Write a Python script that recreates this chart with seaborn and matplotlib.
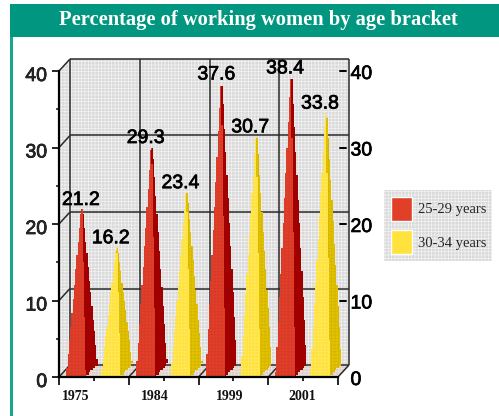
import numpy as np
import pandas as pd
import seaborn as sns
from matplotlib import pyplot as plt
from matplotlib import patheffects as pe
from matplotlib.patches import Polygon, Rectangle
from matplotlib.transforms import ScaledTranslation

years = ['1975', '1984', '1999', '2001']
age_groups = ['25-29 years', '30-34 years']
women_25_29 = [21.2, 29.3, 37.6, 38.4]
women_30_34 = [16.2, 23.4, 30.7, 33.8]

W, H = 499, 416
TEAL = '#009680'

def fx(px):
    return px / W

def fy(px):
    return 1 - px / H

sns.set_style('white')
plt.rcParams['font.family'] = ['Liberation Sans', 'DejaVu Sans']
plt.rcParams['hatch.linewidth'] = 0.5

df = pd.DataFrame({
    'year': years * 2,
    'pct': women_25_29 + women_30_34,
    'age': [age_groups[0]] * 4 + [age_groups[1]] * 4,
})

fig = plt.figure(figsize=(W / 100, H / 100), dpi=100, facecolor='white')
ax = fig.add_axes([fx(59), fy(377), (338 - 59) / W, (377 - 71) / H])
ax.patch.set_visible(False)

sns.barplot(data=df, x='year', y='pct', hue='age', order=years, hue_order=age_groups, saturation=1,
            palette=['#E04028', '#FFE23C'], width=1, gap=0.457, ax=ax, errorbar=None)
ax.set_xlim(-0.5, 3.5)
ax.set_ylim(0, 40)
ax.set_xlabel('')
ax.set_ylabel('')

# depth of the fake 3d box, in data units
dx = 11 / 69.75
dy = 12 / 7.65
x0, x1 = -0.5, 3.5
wall = dict(facecolor='#DADADA', edgecolor='#F2F2F2', hatch='+++++', linewidth=0, clip_on=False)

# walls and floor
ax.add_patch(Polygon([(x0 + dx, dy), (x1 + dx, dy), (x1 + dx, 40 + dy), (x0 + dx, 40 + dy)], zorder=0.5, **wall))
ax.add_patch(Polygon([(x0, 0), (x0 + dx, dy), (x0 + dx, 40 + dy), (x0, 40)], zorder=0.5, **wall))
ax.add_patch(Polygon([(x0, 0), (x1, 0), (x1 + dx, dy), (x0 + dx, dy)], facecolor='#DDD0C8', edgecolor='#EDE4DE',
                     hatch='+++++', linewidth=0, clip_on=False, zorder=0.6))

grid = dict(color='#2A2A2A', lw=1.1, clip_on=False, zorder=0.8, solid_capstyle='butt')
for v in [10, 20, 30, 40]:
    ax.plot([x0 + dx, x1 + dx], [v + dy, v + dy], **grid)
    ax.plot([x0, x0 + dx], [v, v + dy], **grid)
for x in [x0, x0 + 1, x0 + 2, x0 + 3, x1]:
    ax.plot([x + dx, x + dx], [dy, 40 + dy], **grid)
    ax.plot([x, x + dx], [0, dy], **grid)
ax.plot([x0 + dx, x1 + dx], [dy, dy], **grid)

def draw_cone(bar, light, dark, tex_light, tex_dark):
    a = bar.get_x()
    b = a + bar.get_width()
    h = bar.get_height()
    tip_x = (a + b + dx) / 2
    tip_y = h + dy / 2
    ys = np.arange(0, tip_y, 0.3)
    t = ys / tip_y
    q = 1.25 / 69.75
    back = (b + dx) + (tip_x - b - dx) * (ys - dy) / (tip_y - dy)
    # stepped outline, never thinner than one step so the tip stays visible
    left = np.floor((a + (tip_x - a) * t) / q) * q
    right = np.ceil(np.minimum(back, b + dx * ys / dy) / q) * q
    mid = np.round((b + (tip_x - b) * t) / q) * q
    mid = np.clip(mid, left + q / 2, None)
    right = np.maximum(right, mid)
    ax.fill_betweenx(ys, left, mid, step='post', facecolor=light, edgecolor=tex_light, hatch='+++++',
                     linewidth=0, clip_on=False, zorder=2)
    ax.fill_betweenx(ys, mid, right, step='post', where=right >= mid, facecolor=dark, edgecolor=tex_dark,
                     linewidth=0, clip_on=False, zorder=2, hatch='+++++')
    return tip_x, tip_y

label_shift = [-1, -6, -5, -6, -6, -6, -6, -6]
tips = []
looks = [('#E04028', '#A00000', '#D83828', '#A00000'), ('#FFE23C', '#E2C200', '#FFE860', '#D4B400')]
for cont, look in zip(ax.containers, looks):
    for bar in cont:
        tips.append(draw_cone(bar, *look) + (bar.get_height(),))
        bar.set_visible(False)

bold = [pe.withStroke(linewidth=0.5, foreground='black')]
for (tx, ty, v), sh in zip(tips, label_shift):
    ax.annotate(f'{v:.1f}', (tx, ty), xytext=(sh * 0.72, 6), textcoords='offset points', ha='center', va='center',
                fontsize=14, color='black', path_effects=bold, annotation_clip=False, zorder=5)

# front axes
sns.despine(ax=ax, top=True, right=True)
for side in ['left', 'bottom']:
    ax.spines[side].set_linewidth(1.6)
    ax.spines[side].set_color('black')
ax.set_yticks([0, 10, 20, 30, 40])
ax.set_yticks([5, 15, 25, 35], minor=True)
ax.set_xticks([-0.5, 0.5, 1.5, 2.5, 3.5])
ax.set_xticks([0, 1, 2, 3], minor=True)
ax.set_xticklabels([])
ax.tick_params(axis='y', which='major', left=True, length=5, width=1.4, pad=3.5, labelsize=14)
ax.tick_params(axis='y', which='minor', left=True, length=2, width=1.2)
ax.tick_params(axis='x', which='major', bottom=True, length=6, width=1.2, color='black')
ax.tick_params(axis='x', which='minor', bottom=True, length=3, width=1.2, color='black')
shift = ScaledTranslation(0, -3.5 / 100, fig.dpi_scale_trans)
for lab in ax.get_yticklabels():
    lab.set_transform(lab.get_transform() + shift)
    lab.set_path_effects(bold)

# right side scale
for v in [0, 10, 20, 30, 40]:
    ax.annotate(str(v), (1, v / 40), xycoords='axes fraction', xytext=(9, -2.5), textcoords='offset points',
                va='center', ha='left', fontsize=14, color='black', path_effects=bold, annotation_clip=False)
    if v > 0:
        fig.add_artist(plt.Line2D([fx(340), fx(346)], [fy(377 - v * 7.65)] * 2, color='black', lw=1.4))

for year, px in zip(years, [76, 155, 230, 302]):
    fig.text(fx(px), fy(396), year, ha='center', va='center', fontsize=10, fontweight='bold',
             family='Liberation Serif', color='#111111')

# page frame
fig.add_artist(Rectangle((fx(10), 0), 3 / W, fy(4), transform=fig.transFigure, color='#1AA590', lw=0))
fig.add_artist(Rectangle((fx(10), fy(37)), 489 / W, 33 / H, transform=fig.transFigure, color=TEAL, lw=0))
fig.text(fx(258), fy(20), 'Percentage of working women by age bracket', ha='center', va='center', color='white',
         fontsize=14.8, fontweight='bold', family='Liberation Serif')

# legend
sns.move_legend(ax, 'upper left', bbox_to_anchor=(fx(384), fy(190)), bbox_transform=fig.transFigure, title=None,
                frameon=True, fancybox=False, handlelength=1.45, handleheight=2.2, labelspacing=0.62,
                borderpad=0.45, handletextpad=0.4, borderaxespad=0, prop={'family': 'Liberation Serif', 'size': 10.5})
leg = ax.get_legend()
frame = leg.get_frame()
frame.set_facecolor('#DADADA')
frame.set_edgecolor('#F2F2F2')
frame.set_hatch('+++++')
frame.set_linewidth(0)
frame.set_alpha(1)

fig.savefig('out.png', dpi=100)
